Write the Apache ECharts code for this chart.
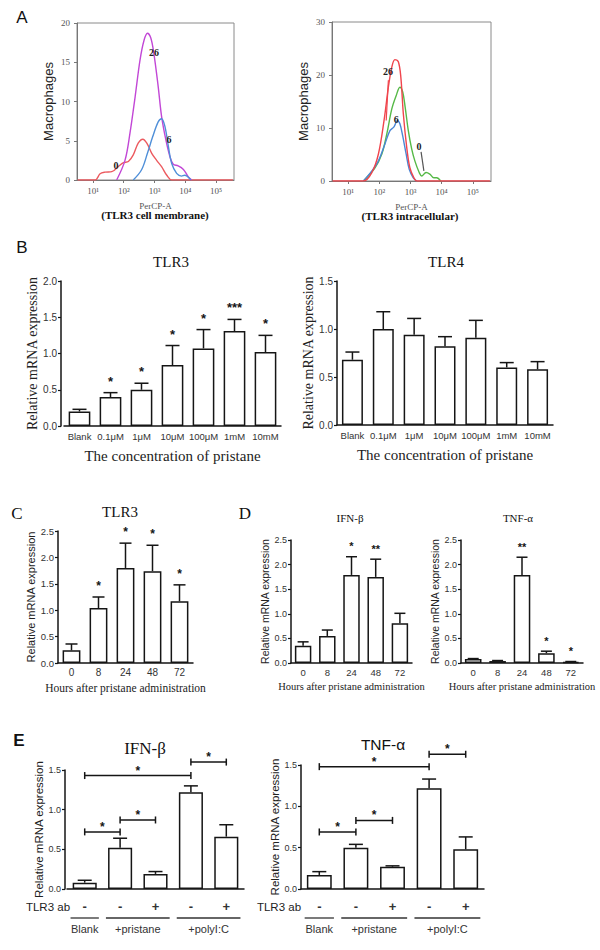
<!DOCTYPE html>
<html><head><meta charset="utf-8">
<script src="https://cdn.jsdelivr.net/npm/echarts@6/dist/echarts.min.js"></script>
<style>html,body{margin:0;padding:0;background:#fff}#c{width:600px;height:950px}</style>
</head><body><div id="c"></div>
<script>
// ---------- Panel A (x = log10 PerCP-A, y = macrophage count) ----------
const aTicks = [1, 2, 3, 4, 5];
const aTickText = {1: '10¹', 2: '10²', 3: '10³', 4: '10⁴', 5: '10⁵'};
const a1RedX = [0.5, 1.07, 1.23, 1.39, 1.61, 1.82, 1.99, 2.15, 2.31, 2.47, 2.62, 2.75, 2.91, 3.07, 3.23, 3.40, 3.56, 5.55];
const a1RedY = [0, 0, 0.8, 1.0, 1.06, 1.7, 2.2, 2.35, 3.2, 4.7, 5.2, 4.7, 3.4, 2.5, 1.7, 0.6, 0, 0];
const a1MagX = [1.77, 2.04, 2.2, 2.37, 2.53, 2.66, 2.77, 2.88, 2.98, 3.12, 3.23, 3.37, 3.5, 3.61, 3.77, 3.94, 4.1, 4.21];
const a1MagY = [0, 2.5, 5.9, 10.6, 15.3, 17.8, 18.7, 18.1, 16.1, 11.9, 8.1, 5.1, 3.0, 2.0, 1.8, 1.35, 0.4, 0];
const a1BluX = [2.31, 2.58, 2.77, 2.94, 3.12, 3.23, 3.34, 3.45, 3.56, 3.72, 3.88, 3.98, 4.18];
const a1BluY = [0, 1.3, 3.4, 5.5, 7.4, 7.8, 6.8, 4.3, 2.1, 0.85, 0.5, 0.6, 0];
const a1Labels = [['26', 2.98, 16.3], ['6', 3.47, 5.1], ['0', 1.75, 1.9]];

const a2RedX = [0.5, 1.49, 1.76, 1.97, 2.15, 2.29, 2.4, 2.5, 2.61, 2.69, 2.77, 2.88, 2.98, 3.11, 3.2, 5.55];
const a2RedY = [0, 0, 1.6, 5.1, 11.4, 17.7, 21.5, 22.9, 22.5, 19.6, 12.7, 6.3, 2.5, 0.6, 0, 0];
const a2GrnX = [1.49, 1.86, 2.08, 2.24, 2.4, 2.54, 2.66, 2.75, 2.83, 2.93, 3.04, 3.14, 3.28, 3.36, 3.5, 3.62, 3.75, 3.84, 3.97];
const a2GrnY = [0, 2.5, 5.1, 8.9, 13.6, 16.1, 17.7, 16.8, 13.9, 9.5, 6.0, 3.8, 1.6, 0.95, 1.6, 1.3, 0.6, 0.6, 0];
const a2BluX = [1.49, 1.76, 1.97, 2.18, 2.34, 2.47, 2.58, 2.66, 2.75, 2.86, 2.96, 3.09, 3.2];
const a2BluY = [0, 1.9, 3.8, 7.0, 9.5, 10.2, 11.4, 10.8, 8.5, 5.1, 2.2, 0.6, 0];
const a2Labels = [['26', 2.28, 20.7], ['6', 2.54, 11.6], ['0', 3.27, 6.45]];
const a2RedLeader = [[2.29, 19.0], [2.22, 11.4]];
const a2GrnLeader = [[3.34, 5.5], [3.43, 1.9]];

// ---------- Panel B ----------
const bCats = ['Blank', '0.1μM', '1μM', '10μM', '100μM', '1mM', '10mM'];
const b1Mean = [0.20, 0.40, 0.50, 0.84, 1.07, 1.31, 1.02];
const b1Sem = [0.03, 0.06, 0.09, 0.27, 0.26, 0.16, 0.23];
const b1Sig = ['', '*', '*', '*', '*', '***', '*'];
const b2Mean = [0.68, 1.00, 0.94, 0.82, 0.91, 0.60, 0.58];
const b2Sem = [0.08, 0.18, 0.17, 0.10, 0.18, 0.05, 0.08];
const b2Sig = ['', '', '', '', '', '', ''];

// ---------- Panel C ----------
const hCats = ['0', '8', '24', '48', '72'];
const cMean = [0.24, 1.04, 1.80, 1.74, 1.17];
const cSem = [0.12, 0.21, 0.47, 0.49, 0.31];
const cSig = ['', '*', '*', '*', '*'];

// ---------- Panel D ----------
const d1Mean = [0.35, 0.55, 1.79, 1.75, 0.81];
const d1Sem = [0.08, 0.12, 0.37, 0.36, 0.20];
const d1Sig = ['', '', '*', '**', ''];
const d2Mean = [0.08, 0.04, 1.79, 0.20, 0.02];
const d2Sem = [0.01, 0.01, 0.36, 0.04, 0.01];
const d2Sig = ['', '', '**', '*', '*'];

// ---------- Panel E ----------
const eCats = ['-', '-', '+', '-', '+'];
const eGroups = [['Blank', 0, 0], ['+pristane', 1, 2], ['+polyI:C', 3, 4]];
const e1Mean = [0.08, 0.52, 0.19, 1.22, 0.66];
const e1Sem = [0.03, 0.12, 0.03, 0.08, 0.15];
const e1Brk = [[0, 1, 0.72], [1, 2, 0.87], [0, 3, 1.43], [3, 4, 1.60]];
const e2Mean = [0.17, 0.50, 0.27, 1.22, 0.48];
const e2Sem = [0.04, 0.04, 0.01, 0.11, 0.15];
const e2Brk = [[0, 1, 0.69], [1, 2, 0.83], [0, 3, 1.48], [3, 4, 1.63]];

const SERIF = '"Liberation Serif", "Times New Roman", serif';
const SANS = '"Liberation Sans", Arial, sans-serif';
const INK = '#151515';

const chart = echarts.init(document.getElementById('c'), null, {renderer: 'svg'});

const grids = [
  {left: 77, top: 23, width: 157, height: 157, show: true, borderColor: '#8a8a8a', borderWidth: 1},
  {left: 332, top: 22, width: 159, height: 159, show: true, borderColor: '#8a8a8a', borderWidth: 1},
  {left: 64, top: 281, width: 217, height: 145},
  {left: 337, top: 281, width: 216, height: 144},
  {left: 58, top: 531, width: 135, height: 132},
  {left: 291, top: 540, width: 121, height: 123},
  {left: 461, top: 540, width: 122, height: 123},
  {left: 67, top: 770, width: 177, height: 119},
  {left: 301, top: 765, width: 183, height: 124}
];

function aX(g) {
  return {gridIndex: g, type: 'value', min: 0.48, max: 5.585,
    axisLine: {lineStyle: {color: '#777', width: 1}},
    axisTick: {customValues: aTicks, length: 3, lineStyle: {color: '#777'}},
    axisLabel: {customValues: aTicks, formatter: v => aTickText[v], fontFamily: SERIF, fontSize: 9, color: '#555', margin: 6},
    splitLine: {show: false},
    name: 'PerCP-A', nameLocation: 'middle', nameGap: 21,
    nameTextStyle: {fontFamily: SERIF, fontSize: 9, color: '#555'}};
}
function aY(g, max, step) {
  return {gridIndex: g, type: 'value', min: 0, max: max, interval: step,
    axisLine: {show: true, lineStyle: {color: '#777', width: 1}},
    axisTick: {show: true, length: 3, lineStyle: {color: '#777'}},
    axisLabel: {fontFamily: SERIF, fontSize: 9, color: '#555', margin: 7},
    splitLine: {show: false},
    name: 'Macrophages', nameLocation: 'middle', nameGap: 22,
    nameTextStyle: {fontFamily: SANS, fontSize: 13, color: '#222'}};
}
function catX(g, cats, fs, margin, name, nameGap, nameFont, nameSize) {
  return {gridIndex: g, type: 'category', data: cats,
    axisLine: {lineStyle: {color: INK, width: 1.5}},
    axisTick: {show: false},
    axisLabel: {fontFamily: SANS, fontSize: fs, color: '#333', margin: margin, interval: 0},
    name: name, nameLocation: 'middle', nameGap: nameGap,
    nameTextStyle: {fontFamily: nameFont, fontSize: nameSize, color: '#222'}};
}
function valY(g, max, step, offset, name, nameGap, nameFont, nameSize, fs) {
  return {gridIndex: g, type: 'value', min: 0, max: max, interval: step, offset: offset,
    axisLine: {show: true, lineStyle: {color: INK, width: 1.5}},
    axisTick: {show: true, length: 3, lineStyle: {color: INK, width: 1.2}},
    axisLabel: {fontFamily: SANS, fontSize: fs, color: '#333', margin: 4, formatter: v => v.toFixed(1)},
    splitLine: {show: false},
    name: name, nameLocation: 'middle', nameGap: nameGap,
    nameTextStyle: {fontFamily: nameFont, fontSize: nameSize, color: '#222'}};
}

const xAxes = [
  aX(0), aX(1),
  catX(2, bCats, 9.5, 5, 'The concentration of pristane', 22, SERIF, 15),
  catX(3, bCats, 9.5, 5, 'The concentration of pristane', 22, SERIF, 15),
  catX(4, hCats, 10, 4, 'Hours after pristane administration', 19, SERIF, 11.5),
  catX(5, hCats, 9.5, 4, 'Hours after pristane administration', 18, SERIF, 10.5),
  catX(6, hCats, 9.5, 4, 'Hours after pristane administration', 18, SERIF, 10.5),
  catX(7, eCats, 13, 11, '', 0, SANS, 10),
  catX(8, eCats, 13, 11, '', 0, SANS, 10)
];
xAxes[7].axisLabel.fontWeight = 'bold';
xAxes[8].axisLabel.fontWeight = 'bold';

const yAxes = [
  aY(0, 20, 5), aY(1, 30, 10),
  valY(2, 2.0, 0.5, 3, 'Relative mRNA expression', 18, SERIF, 14, 10),
  valY(3, 1.5, 0.5, 0, 'Relative mRNA expression', 18, SERIF, 14, 10),
  valY(4, 2.5, 0.5, 0, 'Relative mRNA expression', 16, SANS, 11, 9.5),
  valY(5, 2.5, 0.5, 0, 'Relative mRNA expression', 16, SANS, 10.5, 9),
  valY(6, 2.5, 0.5, 0, 'Relative mRNA expression', 16, SANS, 10.5, 9),
  valY(7, 1.5, 0.5, 2, 'Relative mRNA expression', 17, SANS, 11.5, 9),
  valY(8, 1.5, 0.5, 0, 'Relative mRNA expression', 17, SANS, 11.5, 9)
];

function histo(g, xs, ys, color, leader, leaderColor) {
  const s = {type: 'line', xAxisIndex: g, yAxisIndex: g, smooth: 0.35, showSymbol: false,
    data: xs.map((x, i) => [x, ys[i]]), lineStyle: {color: color, width: 1.4}, itemStyle: {color: color},
    silent: true, z: 3};
  if (leader) {
    s.markLine = {symbol: 'none', silent: true, label: {show: false},
      lineStyle: {color: leaderColor, width: 1.2, type: 'solid'},
      data: [[{coord: leader[0]}, {coord: leader[1]}]]};
  }
  return s;
}
function histoLabels(g, labels) {
  return {type: 'custom', xAxisIndex: g, yAxisIndex: g, clip: false, silent: true, z: 6,
    data: labels.map(l => [l[1], l[2]]),
    renderItem: (params, api) => {
      const l = labels[params.dataIndex];
      const p = api.coord([l[1], l[2]]);
      return {type: 'text', style: {text: l[0], x: p[0], y: p[1], align: 'center', verticalAlign: 'middle',
        fontFamily: SERIF, fontWeight: 'bold', fontSize: 10, fill: '#222'}};
    }};
}

function bars(g, mean, bw) {
  return {type: 'bar', xAxisIndex: g, yAxisIndex: g, data: mean, barWidth: bw,
    itemStyle: {color: '#fff', borderColor: INK, borderWidth: 1.5}, silent: true, z: 2};
}
function errs(g, mean, sem, sig, capW, starSize) {
  return {type: 'custom', xAxisIndex: g, yAxisIndex: g, clip: false, silent: true, z: 4,
    data: mean.map((m, i) => [i, m + sem[i]]),
    renderItem: (params, api) => {
      const i = params.dataIndex;
      const p0 = api.coord([i, mean[i]]);
      const p1 = api.coord([i, mean[i] + sem[i]]);
      const ch = [
        {type: 'line', shape: {x1: p0[0], y1: p0[1], x2: p1[0], y2: p1[1]}, style: {stroke: INK, lineWidth: 1.5}},
        {type: 'line', shape: {x1: p1[0] - capW / 2, y1: p1[1], x2: p1[0] + capW / 2, y2: p1[1]}, style: {stroke: INK, lineWidth: 1.5}}
      ];
      if (sig[i]) ch.push({type: 'text', style: {text: sig[i], x: p1[0], y: p1[1] - 5, align: 'center', verticalAlign: 'bottom',
        fontFamily: SANS, fontWeight: 'bold', fontSize: starSize, fill: INK}});
      return {type: 'group', children: ch};
    }};
}
function brackets(g, brk) {
  return {type: 'custom', xAxisIndex: g, yAxisIndex: g, clip: false, silent: true, z: 4,
    data: brk.map(b => [b[0], b[2]]),
    renderItem: (params, api) => {
      const b = brk[params.dataIndex];
      const a = api.coord([b[0], b[2]]);
      const c = api.coord([b[1], b[2]]);
      const st = {stroke: INK, lineWidth: 1.5};
      return {type: 'group', children: [
        {type: 'line', shape: {x1: a[0], y1: a[1], x2: c[0], y2: c[1]}, style: st},
        {type: 'line', shape: {x1: a[0], y1: a[1] - 3.5, x2: a[0], y2: a[1] + 3.5}, style: st},
        {type: 'line', shape: {x1: c[0], y1: c[1] - 3.5, x2: c[0], y2: c[1] + 3.5}, style: st},
        {type: 'text', style: {text: '*', x: (a[0] + c[0]) / 2, y: a[1] + 1, align: 'center', verticalAlign: 'bottom',
          fontFamily: SANS, fontWeight: 'bold', fontSize: 12, fill: INK}}
      ]};
    }};
}
function groupsSeries(g) {
  return {type: 'custom', xAxisIndex: g, yAxisIndex: g, clip: false, silent: true, z: 4,
    data: eGroups.map(e => [e[1], 0]),
    renderItem: (params, api) => {
      const e = eGroups[params.dataIndex];
      const a = api.coord([e[1], 0]);
      const c = api.coord([e[2], 0]);
      const half = api.size([1, 0])[0] * 0.4;
      return {type: 'group', children: [
        {type: 'line', shape: {x1: a[0] - half, y1: a[1] + 29, x2: c[0] + half, y2: a[1] + 29}, style: {stroke: '#333', lineWidth: 1.3}},
        {type: 'text', style: {text: e[0], x: (a[0] + c[0]) / 2, y: a[1] + 40, align: 'center', verticalAlign: 'middle',
          fontFamily: SANS, fontSize: 11, fill: '#333'}}
      ]};
    }};
}

const series = [
  histo(0, a1RedX, a1RedY, '#ec5a5f'),
  histo(0, a1MagX, a1MagY, '#c247d6'),
  histo(0, a1BluX, a1BluY, '#4f8fd8'),
  histoLabels(0, a1Labels),
  histo(1, a2GrnX, a2GrnY, '#56b947', a2GrnLeader, '#555'),
  histo(1, a2BluX, a2BluY, '#4a86d6'),
  histo(1, a2RedX, a2RedY, '#f0454d', a2RedLeader, '#f0454d'),
  histoLabels(1, a2Labels),
  bars(2, b1Mean, '70%'), errs(2, b1Mean, b1Sem, b1Sig, 14, 13),
  bars(3, b2Mean, '68%'), errs(3, b2Mean, b2Sem, b2Sig, 14, 13),
  bars(4, cMean, '66%'), errs(4, cMean, cSem, cSig, 12, 12),
  bars(5, d1Mean, '68%'), errs(5, d1Mean, d1Sem, d1Sig, 11, 11),
  bars(6, d2Mean, '68%'), errs(6, d2Mean, d2Sem, d2Sig, 11, 11),
  bars(7, e1Mean, '68%'), errs(7, e1Mean, e1Sem, ['', '', '', '', ''], 14, 12), brackets(7, e1Brk), groupsSeries(7),
  bars(8, e2Mean, '68%'), errs(8, e2Mean, e2Sem, ['', '', '', '', ''], 14, 12), brackets(8, e2Brk), groupsSeries(8)
];

function txt(x, y, text, font, size, weight, color) {
  return {type: 'text', x: x, y: y, silent: true,
    style: {text: text, fontFamily: font, fontSize: size, fontWeight: weight || 'normal', fill: color || '#111',
      align: 'center', verticalAlign: 'middle'}};
}

const graphics = [
  txt(22, 17, 'A', SANS, 17),
  txt(155, 215, '(TLR3 cell membrane)', SERIF, 11, 'bold'),
  txt(410, 216, '(TLR3 intracellular)', SERIF, 11, 'bold'),
  txt(22, 247, 'B', SANS, 17),
  txt(171, 262, 'TLR3', SERIF, 15),
  txt(446, 262, 'TLR4', SERIF, 15),
  txt(17, 513, 'C', SERIF, 17),
  txt(120, 512, 'TLR3', SERIF, 15),
  txt(245, 513, 'D', SERIF, 17),
  txt(350, 518, 'IFN-β', SERIF, 11),
  txt(518, 518, 'TNF-α', SERIF, 11),
  txt(19, 740, 'E', SANS, 17, 'bold'),
  txt(145, 748, 'IFN-β', SERIF, 17),
  txt(383, 744, 'TNF-α', SANS, 15.5),
  txt(48, 907, 'TLR3 ab', SANS, 11.5, 'normal', '#222'),
  txt(279, 907, 'TLR3 ab', SANS, 11.5, 'normal', '#222')
];

chart.setOption({
  animation: false,
  backgroundColor: '#fff',
  grid: grids,
  xAxis: xAxes,
  yAxis: yAxes,
  series: series,
  graphic: graphics
});
</script>
</body></html>
